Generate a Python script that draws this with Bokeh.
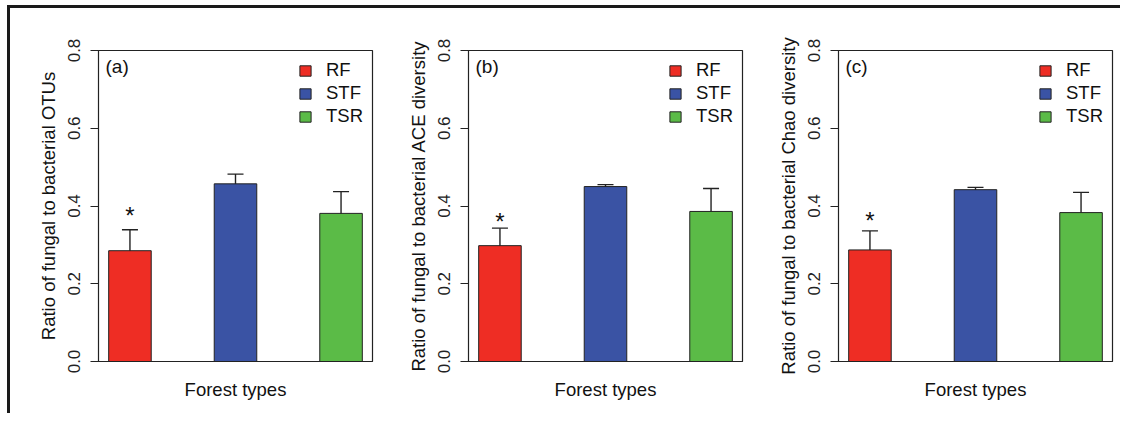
from bokeh.plotting import figure
from bokeh.models import ColumnDataSource, Whisker, Label, FixedTicker, Range1d
from bokeh.layouts import row
from bokeh.embed import file_html
from bokeh.resources import INLINE

forest_types = ["RF", "STF", "TSR"]
colors = ["#EE2D24", "#3A53A4", "#5BBB47"]
panel_labels = ["(a)", "(b)", "(c)"]
y_titles = [
    "Ratio of fungal to bacterial OTUs",
    "Ratio of fungal to bacterial ACE diversity",
    "Ratio of fungal to bacterial Chao diversity",
]
means_a = [0.285, 0.457, 0.381]
errs_a = [0.054, 0.025, 0.056]
means_b = [0.298, 0.450, 0.386]
errs_b = [0.045, 0.005, 0.059]
means_c = [0.287, 0.442, 0.383]
errs_c = [0.049, 0.006, 0.052]
star_y = [0.381, 0.365, 0.367]
y_ticks = [0.0, 0.2, 0.4, 0.6, 0.8]

FONT = "Liberation Sans"
INK = "#222222"


def make_panel(means, errs, label, ytitle, stary):
    xs = [1, 2, 3]
    src = ColumnDataSource(dict(
        x=xs, top=means, color=colors, name=forest_types,
        upper=[m + e for m, e in zip(means, errs)],
        lower=[m - e for m, e in zip(means, errs)],
    ))
    p = figure(frame_width=274, frame_height=311, min_border_left=88, min_border_right=8,
               min_border_top=42, min_border_bottom=52,
               x_range=Range1d(0.702, 3.298), y_range=Range1d(0, 0.8),
               output_backend="svg", toolbar_location=None)
    p.xgrid.visible = False
    p.ygrid.visible = False
    p.outline_line_color = INK
    p.outline_line_width = 1.2
    p.background_fill_color = "white"
    p.border_fill_color = "white"

    p.vbar(x="x", top="top", width=0.403, bottom=0, fill_color="color",
           line_color=INK, line_width=1, source=src, legend_field="name")

    w = Whisker(source=src, base="x", upper="upper", lower="lower",
                line_color=INK, line_width=1.4)
    for head in (w.upper_head, w.lower_head):
        head.size = 16
        head.line_color = INK
        head.line_width = 1.4
    p.add_layout(w)

    # y axis
    p.yaxis.ticker = FixedTicker(ticks=y_ticks)
    p.yaxis.major_label_overrides = {t: f"{t:.1f}" for t in y_ticks}
    p.yaxis.major_label_orientation = "vertical"
    p.yaxis.major_label_text_font = FONT
    p.yaxis.major_label_text_font_size = "17px"
    p.yaxis.major_label_text_color = INK
    p.yaxis.major_tick_out = 8
    p.yaxis.major_tick_in = 0
    p.yaxis.minor_tick_line_color = None
    p.yaxis.major_tick_line_color = INK
    p.yaxis.axis_line_color = INK
    p.yaxis.major_label_standoff = 11
    p.yaxis.axis_label = ytitle
    p.yaxis.axis_label_text_font = FONT
    p.yaxis.axis_label_text_font_style = "normal"
    p.yaxis.axis_label_text_font_size = "18.5px"
    p.yaxis.axis_label_text_color = "#111111"
    p.yaxis.axis_label_standoff = 6

    # x axis: title only
    p.xaxis.ticker = FixedTicker(ticks=[])
    p.xaxis.major_label_text_font_size = "0px"
    p.xaxis.major_tick_line_color = None
    p.xaxis.minor_tick_line_color = None
    p.xaxis.axis_line_color = INK
    p.xaxis.axis_label = "Forest types"
    p.xaxis.axis_label_text_font = FONT
    p.xaxis.axis_label_text_font_style = "normal"
    p.xaxis.axis_label_text_font_size = "18.5px"
    p.xaxis.axis_label_text_color = "#111111"
    p.xaxis.axis_label_standoff = 17

    # panel label
    p.add_layout(Label(x=0.702, y=0.8, x_offset=7, y_offset=-5, text=label,
                       text_font=FONT, text_font_size="19px", text_baseline="top",
                       text_color="#111111"))
    # significance star
    p.add_layout(Label(x=1, y=stary, text="*", text_font=FONT, text_font_size="24px",
                       text_align="center", text_baseline="middle", y_offset=-2,
                       text_color="#111111"))

    leg = p.legend[0]
    leg.location = "top_right"
    leg.border_line_color = None
    leg.background_fill_alpha = 0
    leg.margin = 9
    leg.padding = 12
    leg.glyph_width = 14
    leg.glyph_height = 13
    leg.label_standoff = 14
    leg.spacing = 1
    leg.label_height = 21
    leg.label_text_font = FONT
    leg.label_text_font_size = "18.5px"
    leg.label_text_color = "#111111"
    return p


pa = make_panel(means_a, errs_a, panel_labels[0], y_titles[0], star_y[0])
pb = make_panel(means_b, errs_b, panel_labels[1], y_titles[1], star_y[1])
pc = make_panel(means_c, errs_c, panel_labels[2], y_titles[2], star_y[2])

layout = row(pa, pb, pc, styles={"border-top": "3px solid #1a1a1a",
                                 "border-left": "3px solid #1a1a1a",
                                 "margin-left": "7px",
                                 "margin-top": "5px"})

open("out.html", "w").write(file_html(layout, INLINE))
